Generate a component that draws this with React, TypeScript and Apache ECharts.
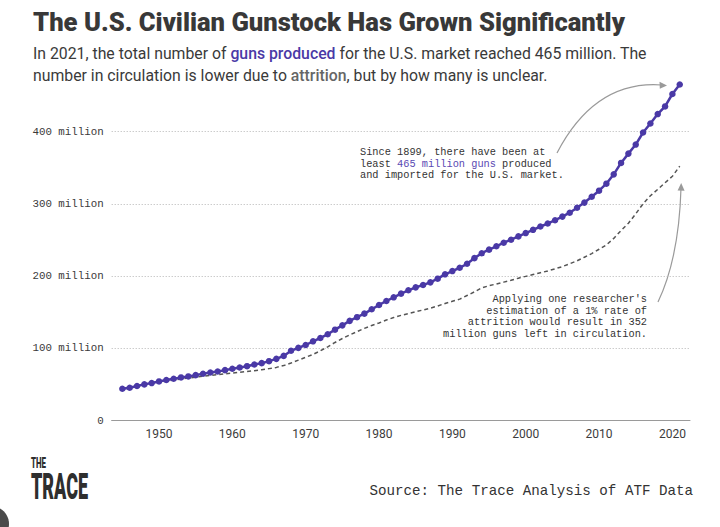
import React, { useEffect, useRef } from 'react';
import * as echarts from 'echarts';

// Years covered by the series
const years = [
  1945, 1946, 1947, 1948, 1949, 1950, 1951, 1952, 1953, 1954,
  1955, 1956, 1957, 1958, 1959, 1960, 1961, 1962, 1963, 1964,
  1965, 1966, 1967, 1968, 1969, 1970, 1971, 1972, 1973, 1974,
  1975, 1976, 1977, 1978, 1979, 1980, 1981, 1982, 1983, 1984,
  1985, 1986, 1987, 1988, 1989, 1990, 1991, 1992, 1993, 1994,
  1995, 1996, 1997, 1998, 1999, 2000, 2001, 2002, 2003, 2004,
  2005, 2006, 2007, 2008, 2009, 2010, 2011, 2012, 2013, 2014,
  2015, 2016, 2017, 2018, 2019, 2020, 2021,
];

// Cumulative guns produced and imported for the U.S. market (millions)
const gunsProduced = [
  44.0, 45.4, 47.7, 50.0, 51.8, 54.1, 56.0, 57.8, 59.6, 61.0,
  62.8, 64.7, 66.5, 67.9, 69.7, 71.6, 73.4, 75.2, 77.5, 79.4,
  82.1, 85.3, 89.4, 96.5, 100.5, 104.5, 109.6, 114.2, 119.3, 125.7,
  131.7, 137.9, 143.0, 147.9, 153.9, 159.9, 165.4, 170.5, 175.6, 180.2,
  184.3, 187.6, 191.2, 196.3, 202.3, 206.8, 211.4, 216.9, 224.7, 231.5,
  236.5, 241.1, 246.1, 250.2, 254.8, 259.4, 263.9, 268.5, 272.6, 277.2,
  282.2, 287.6, 294.4, 301.6, 309.7, 318.1, 327.8, 340.7, 356.5, 369.4,
  381.9, 398.6, 411.1, 424.1, 434.7, 451.9, 465.0,
];

// Estimated guns still in circulation with 1% yearly attrition (millions)
const gunsInCirculation = [
  44.0, 45.4, 47.5, 49.5, 51.5, 53.0, 54.5, 56.0, 57.5, 58.8,
  60.0, 61.2, 62.3, 63.4, 64.5, 65.6, 66.7, 67.8, 69.0, 70.3,
  71.8, 73.5, 76.0, 79.5, 83.5, 87.5, 91.5, 96.5, 102.0, 108.0,
  113.5, 118.5, 123.0, 127.5, 131.5, 135.0, 139.0, 142.5, 145.5, 148.0,
  150.5, 153.0, 155.5, 158.5, 162.0, 165.0, 168.0, 173.0, 178.0, 183.5,
  186.5, 189.0, 191.5, 194.0, 197.0, 199.5, 202.0, 204.5, 207.0, 210.0,
  213.0, 217.0, 221.0, 226.0, 231.0, 237.0, 243.0, 252.0, 263.0, 273.0,
  286.0, 300.0, 311.0, 320.0, 329.0, 338.0, 352.0,
];

const decadeTicks = [1950, 1960, 1970, 1980, 1990, 2000, 2010, 2020];

const PURPLE = '#4a39a6';
const INK = '#333333';
const MONO = '"Liberation Mono", "DejaVu Sans Mono", monospace';
const SANS = 'Roboto, "Noto Sans", sans-serif';

export default function App() {
  const ref = useRef<HTMLDivElement>(null);

  useEffect(() => {
    if (!ref.current) return;
    const chart = echarts.init(ref.current, null, { renderer: 'svg' });

    const produced = years.map((y, i) => [y, gunsProduced[i]]);
    const circulating = years.map((y, i) => [y, gunsInCirculation[i]]);

    chart.setOption({
      animation: false,
      backgroundColor: '#ffffff',
      grid: {
        left: 111.7,
        right: 30,
        top: 131.5,
        bottom: 106.5,
        containLabel: false,
        outerBoundsMode: 'none',
      },
      xAxis: {
        type: 'value',
        min: 1943.55,
        max: 2022.4,
        splitLine: { show: false },
        axisLine: { show: true, lineStyle: { color: '#9a9a9a', width: 1 } },
        axisTick: { show: false },
        axisLabel: {
          customValues: decadeTicks,
          formatter: (v: number) => String(v),
          color: '#3c3c3c',
          fontFamily: SANS,
          fontSize: 12,
          margin: 7,
        },
      },
      yAxis: {
        type: 'value',
        min: 0,
        max: 400,
        interval: 100,
        axisLine: { show: false },
        axisTick: { show: false },
        splitLine: {
          show: true,
          lineStyle: { color: '#b5b5b5', type: [1, 2], width: 1 },
        },
        axisLabel: {
          formatter: (v: number) => (v === 0 ? '0' : `${v} million`),
          color: '#3a3a3a',
          fontFamily: MONO,
          fontSize: 10.8,
          margin: 8,
        },
      },
      series: [
        {
          name: 'In circulation',
          type: 'line',
          data: circulating,
          showSymbol: false,
          symbol: 'none',
          clip: false,
          lineStyle: { color: '#555', width: 1.5, type: [4, 3] },
          z: 2,
        },
        {
          name: 'Produced',
          type: 'line',
          data: produced,
          symbol: 'circle',
          symbolSize: 6.5,
          clip: false,
          itemStyle: { color: PURPLE },
          lineStyle: { color: PURPLE, width: 2.5 },
          z: 3,
        },
      ],
      graphic: [
        {
          type: 'text',
          x: 33,
          y: 22,
          style: {
            text: 'The U.S. Civilian Gunstock Has Grown Significantly',
            fill: '#383838',
            fontFamily: SANS,
            fontWeight: 900,
            fontSize: 25.6,
            verticalAlign: 'middle',
          },
        },
        {
          type: 'text',
          x: 33,
          y: 64,
          style: {
            text:
              '{n|In 2021, the total number of }{p|guns produced}{n| for the U.S. market reached 465 million. The}\n' +
              '{n|number in circulation is lower due to }{a|attrition}{n|, but by how many is unclear.}',
            verticalAlign: 'middle',
            lineHeight: 22,
            rich: {
              n: { fill: '#3a3a3a', fontFamily: SANS, fontSize: 15.8, lineHeight: 22 },
              p: { fill: PURPLE, fontFamily: SANS, fontSize: 15.8, fontWeight: 500, lineHeight: 22 },
              a: { fill: '#666', fontFamily: SANS, fontSize: 15.8, fontWeight: 500, lineHeight: 22 },
            },
          },
        },
        {
          type: 'text',
          x: 360,
          y: 163.7,
          style: {
            text:
              '{t|Since 1899, there have been at}\n' +
              '{t|least }{h|465 million guns}{t| produced}\n' +
              '{t|and imported for the U.S. market.}',
            verticalAlign: 'middle',
            align: 'left',
            lineHeight: 11.8,
            rich: {
              t: { fill: INK, fontFamily: MONO, fontSize: 10.3, lineHeight: 11.8 },
              h: { fill: '#5a49b3', fontFamily: MONO, fontSize: 10.3, lineHeight: 11.8 },
            },
          },
        },
        {
          type: 'text',
          x: 647,
          y: 316.5,
          style: {
            text:
              "Applying one researcher's\nestimation of a 1% rate of\nattrition would result in 352\nmillion guns left in circulation.",
            fill: INK,
            fontFamily: MONO,
            fontSize: 10.3,
            lineHeight: 11.5,
            align: 'right',
            verticalAlign: 'middle',
          },
        },
        {
          type: 'bezierCurve',
          shape: { x1: 557, y1: 153, cpx1: 595, cpy1: 80, x2: 662, y2: 85 },
          style: { stroke: '#9a9a9a', lineWidth: 1.2, fill: null },
        },
        {
          type: 'polygon',
          shape: { points: [[667, 85.4], [659.5, 81.8], [659.8, 88.8]] },
          style: { fill: '#9a9a9a' },
        },
        {
          type: 'bezierCurve',
          shape: { x1: 658, y1: 302, cpx1: 679, cpy1: 258, x2: 681, y2: 188 },
          style: { stroke: '#9a9a9a', lineWidth: 1.2, fill: null },
        },
        {
          type: 'polygon',
          shape: { points: [[681.2, 183], [677.6, 190.5], [684.6, 190.7]] },
          style: { fill: '#9a9a9a' },
        },
        {
          type: 'text',
          x: 31,
          y: 463,
          scaleX: 0.72,
          scaleY: 1.4,
          style: {
            text: 'THE',
            fill: '#2e2e2e',
            fontFamily: SANS,
            fontWeight: 900,
            fontSize: 11,
            verticalAlign: 'middle',
          },
        },
        {
          type: 'text',
          x: 31,
          y: 486,
          scaleX: 0.6,
          scaleY: 1.22,
          style: {
            text: 'TRACE',
            fill: '#2e2e2e',
            fontFamily: SANS,
            fontWeight: 900,
            fontSize: 30,
            verticalAlign: 'middle',
          },
        },
        {
          type: 'text',
          x: 693,
          y: 491,
          style: {
            text: 'Source: The Trace Analysis of ATF Data',
            fill: INK,
            fontFamily: MONO,
            fontSize: 14.2,
            align: 'right',
            verticalAlign: 'middle',
          },
        },
        {
          type: 'circle',
          shape: { cx: -9, cy: 524, r: 18 },
          style: { fill: '#4a4a4a' },
        },
      ],
    });

    return () => chart.dispose();
  }, []);

  return (
    <div
      ref={ref}
      style={{ position: 'fixed', left: 0, top: 0, width: 720, height: 527, background: '#fff' }}
    />
  );
}
